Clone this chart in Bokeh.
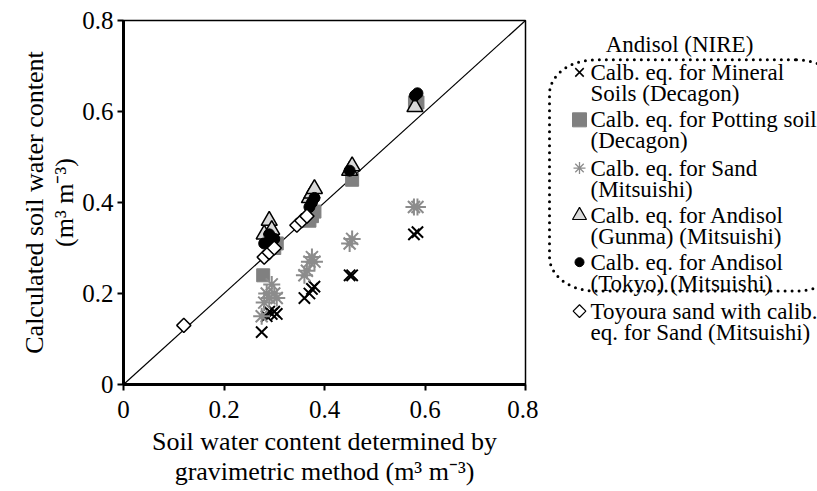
import numpy as np
from bokeh.plotting import figure
from bokeh.models import Range1d, FixedTicker, Label
from bokeh.layouts import row
from bokeh.embed import file_html
from bokeh.resources import INLINE

# ---------------- data ----------------
tick_values = [0, 0.2, 0.4, 0.6, 0.8]
tick_labels = ["0", "0.2", "0.4", "0.6", "0.8"]

mineral_x = [0.275, 0.285, 0.29, 0.295, 0.30, 0.305, 0.36, 0.37, 0.375, 0.38, 0.45, 0.455, 0.578, 0.585]
mineral_y = [0.115, 0.15, 0.16, 0.155, 0.16, 0.155, 0.19, 0.20, 0.21, 0.215, 0.24, 0.24, 0.33, 0.335]

potting_x = [0.278, 0.30, 0.305, 0.37, 0.375, 0.38, 0.455, 0.58, 0.585]
potting_y = [0.24, 0.30, 0.31, 0.36, 0.37, 0.38, 0.45, 0.62, 0.62]

sand_x = [0.275, 0.28, 0.285, 0.29, 0.295, 0.30, 0.305, 0.36, 0.365, 0.37, 0.375, 0.38, 0.45, 0.455, 0.578, 0.585]
sand_y = [0.15, 0.18, 0.20, 0.19, 0.22, 0.20, 0.19, 0.24, 0.25, 0.27, 0.28, 0.27, 0.31, 0.32, 0.39, 0.39]

gunma_x = [0.28, 0.29, 0.295, 0.37, 0.375, 0.38, 0.45, 0.455, 0.58]
gunma_y = [0.33, 0.36, 0.34, 0.41, 0.42, 0.43, 0.47, 0.48, 0.61]

tokyo_x = [0.28, 0.29, 0.295, 0.30, 0.37, 0.375, 0.38, 0.45, 0.58, 0.585]
tokyo_y = [0.31, 0.33, 0.32, 0.32, 0.39, 0.40, 0.41, 0.47, 0.635, 0.64]

toyoura_x = [0.12, 0.28, 0.29, 0.30, 0.345, 0.355, 0.365]
toyoura_y = [0.13, 0.28, 0.29, 0.30, 0.35, 0.36, 0.37]

one_to_one = [0, 0.8]

legend_title = "Andisol (NIRE)"
legend_lines = [
    ["Calb. eq. for Mineral", "Soils (Decagon)"],
    ["Calb. eq. for Potting soil", "(Decagon)"],
    ["Calb. eq. for Sand", "(Mitsuishi)"],
    ["Calb. eq. for Andisol", "(Gunma) (Mitsuishi)"],
    ["Calb. eq. for Andisol", "(Tokyo) (Mitsuishi)"],
    ["Toyoura sand with calib.", "eq. for Sand (Mitsuishi)"],
]

FONT = "'Liberation Serif', 'Times New Roman', serif"
H = 491

# ---------------- main plot ----------------
p = figure(width=538, height=H, x_range=Range1d(0, 0.8), y_range=Range1d(0, 0.8),
           output_backend="svg", toolbar_location=None,
           min_border_left=123, min_border_top=20, min_border_right=13, min_border_bottom=107)
p.xgrid.visible = False
p.ygrid.visible = False
p.outline_line_color = "black"
p.outline_line_width = 1.5
p.background_fill_color = "white"

for ax in (p.xaxis[0], p.yaxis[0]):
    ax.ticker = FixedTicker(ticks=tick_values)
    ax.major_label_overrides = dict(zip(tick_values, tick_labels))
    ax.axis_line_width = 3
    ax.axis_line_color = "black"
    ax.major_tick_line_width = 2
    ax.major_tick_line_color = "black"
    ax.major_tick_in = 0
    ax.major_tick_out = 6
    ax.minor_tick_line_color = None
    ax.major_label_text_font = FONT
    ax.major_label_text_font_size = "25px"
    ax.major_label_text_color = "black"
    ax.axis_label_text_font = FONT
    ax.axis_label_text_font_size = "26px"
    ax.axis_label_text_font_style = "normal"
    ax.axis_label_text_color = "black"
    ax.axis_label_text_line_height = 1.05

p.xaxis[0].axis_label = "Soil water content determined by\ngravimetric method (m\u00b3 m\u207b\u00b3)"
p.yaxis[0].axis_label = "Calculated soil water content\n(m\u00b3 m\u207b\u00b3)"
p.xaxis[0].major_label_standoff = 10
p.yaxis[0].major_label_standoff = 4
p.xaxis[0].axis_label_standoff = 6
p.yaxis[0].axis_label_standoff = 0

p.line(one_to_one, one_to_one, line_color="black", line_width=1.2)

p.scatter(mineral_x, mineral_y, marker="x", size=16, line_color="black", line_width=2)
p.scatter(potting_x, potting_y, marker="square", size=13, fill_color="#808080", line_color="#808080")
p.scatter(sand_x, sand_y, marker="asterisk", size=17, line_color="#8c8c8c", line_width=2)
p.scatter(gunma_x, gunma_y, marker="triangle", size=16, fill_color="#d9d9d9", line_color="black", line_width=1.5)
p.scatter(tokyo_x, tokyo_y, marker="circle", size=11, fill_color="black", line_color="black")
p.scatter(toyoura_x, toyoura_y, marker="square", angle=np.pi / 4, size=10,
          fill_color="white", line_color="black", line_width=1.5)

# ---------------- legend panel (coordinates = page pixels) ----------------
leg = figure(width=279, height=H, x_range=Range1d(538, 817), y_range=Range1d(H, 0),
             output_backend="svg", toolbar_location=None, min_border=0,
             x_axis_location=None, y_axis_location=None)
leg.outline_line_color = None
leg.xgrid.visible = False
leg.ygrid.visible = False

# dotted rounded rectangle
L, R, T, B, r = 549, 842, 53, 365, 46
def arc(cx, cy, a0, a1, n=20):
    a = np.linspace(a0, a1, n)
    return cx + r * np.cos(a), cy + r * np.sin(a)
xs, ys = [], []
for (cx, cy, a0, a1) in [(R - r, T + r, -np.pi / 2, 0), (R - r, B - r, 0, np.pi / 2),
                         (L + r, B - r, np.pi / 2, np.pi), (L + r, T + r, np.pi, 1.5 * np.pi)]:
    ax_, ay_ = arc(cx, cy, a0, a1)
    xs.extend(ax_); ys.extend(ay_)
xs.append(xs[0]); ys.append(ys[0])
leg.line(xs, ys, line_color="black", line_width=3, line_dash="0 7", line_cap="round")

def add_text(x, y, s, align="left"):
    leg.add_layout(Label(x=x, y=y, text=s, text_font=FONT, text_font_size="23px",
                         text_align=align, text_baseline="middle", text_color="black"))

add_text(679, 33, legend_title, "center")

entry_y = [70, 134, 199, 263, 326, 392]
mk_x = 579
txt_x = 590
for yy, lines in zip(entry_y, legend_lines):
    for k, ln in enumerate(lines):
        add_text(txt_x, yy + 28.5 * k, ln)

leg.scatter([mk_x], [entry_y[0]], marker="x", size=12, line_color="black", line_width=1.5)
leg.scatter([mk_x], [entry_y[1]], marker="square", size=14, fill_color="#808080", line_color="#808080")
leg.scatter([mk_x], [entry_y[2]], marker="asterisk", size=12, line_color="#8c8c8c", line_width=1.3)
leg.scatter([mk_x], [entry_y[3]], marker="triangle", size=14, fill_color="#d9d9d9", line_color="black", line_width=1.2)
leg.scatter([mk_x], [entry_y[4]], marker="circle", size=9, fill_color="black", line_color="black")
leg.scatter([mk_x], [entry_y[5]], marker="square", angle=np.pi / 4, size=9, fill_color="white",
            line_color="black", line_width=1.2)

layout = row(p, leg)
open("out.html", "w").write(file_html(layout, INLINE))
